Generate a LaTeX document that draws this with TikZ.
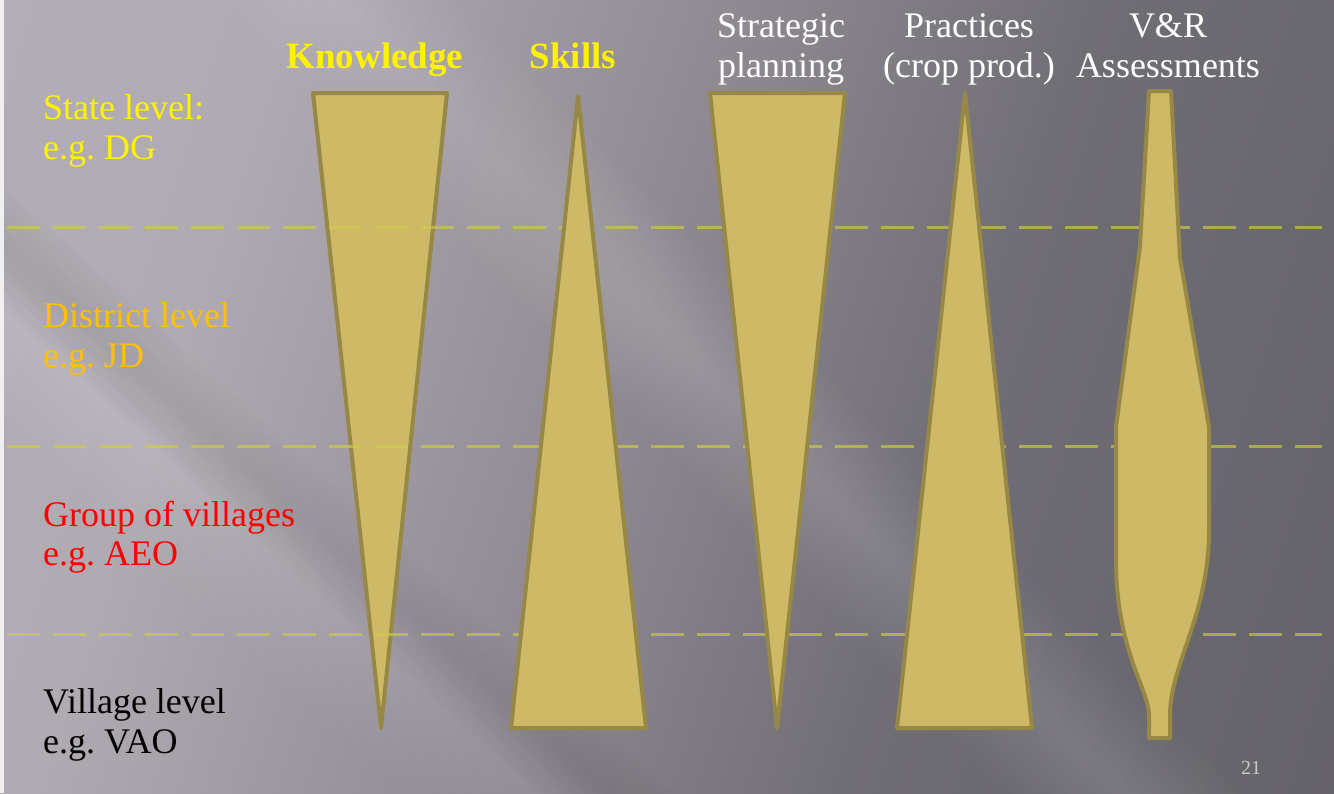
\documentclass[tikz,border=0pt]{standalone}
\usepackage{fontspec}
\setmainfont{Liberation Serif}
\frenchspacing
\begin{document}
\pgfdeclarehorizontalshading{slidebg}{100bp}{%
  rgb(0bp)=(0.72,0.70,0.73);
  rgb(30bp)=(0.69,0.67,0.70);
  rgb(48bp)=(0.56,0.54,0.57);
  rgb(62bp)=(0.44,0.43,0.46);
  rgb(100bp)=(0.35,0.345,0.365)}
\definecolor{goldfill}{RGB}{206,185,102}
\definecolor{goldline}{RGB}{152,136,70}
\definecolor{dashyellow}{RGB}{205,205,70}
\definecolor{districtcol}{RGB}{255,192,0}
\definecolor{pagenum}{RGB}{200,200,204}
\begin{tikzpicture}[x=1pt,y=-1pt,
  wedge/.style={fill=goldfill,draw=goldline,line width=4pt,line join=round},
  levelline/.style={draw=dashyellow,draw opacity=0.65,line width=3pt,dash pattern=on 33pt off 13pt},
  rowlabel/.style={anchor=base west,inner sep=0pt,font=\fontsize{36}{40}\selectfont},
  colhead/.style={anchor=base,inner sep=0pt,font=\fontsize{36}{40}\selectfont,text=white},
  boldhead/.style={anchor=base,inner sep=0pt,font=\fontsize{37}{40}\selectfont\bfseries,text=yellow},
  streak/.style={white,line cap=butt}]
\useasboundingbox (0,0) rectangle (1334,793);

% slide background: diagonal grey gradient with soft light streaks
\shade[shading=slidebg,shading angle=-18] (0,0) rectangle (1334,793);
\begin{scope}
  \clip (0,0) rectangle (1334,793);
  \foreach \w in {20,40,...,160}{
    \draw[streak,opacity=0.018,line width=\w pt] (200,-141) -- (1230,900);
    \draw[streak,opacity=0.016,line width=\w pt] (-200,130) -- (700,950);
  }
  \foreach \w in {15,30,...,90}{
    \draw[black,opacity=0.012,line width=\w pt] (-50,200) -- (780,950);
  }
\end{scope}
\fill[white!88!gray] (0,0) rectangle (4,793);

% knowledge narrows towards the village level
\draw[wedge] (313,93) -- (447,93) -- (381,728) -- cycle;

% dashed boundaries between administrative levels
\coordinate (s1) at (7,227);  \coordinate (e1) at (1322,227);
\coordinate (s2) at (7,446);  \coordinate (e2) at (1322,446);
\coordinate (s3) at (7,634);  \coordinate (e3) at (1322,634);
\draw[levelline] (s1) -- (e1);
\draw[levelline] (s2) -- (e2);
\draw[levelline] (s3) -- (e3);

% skills widen towards the village level
\draw[wedge] (578,96) -- (646,728) -- (511,728) -- cycle;
% strategic planning
\draw[wedge] (710,93) -- (845,93) -- (777,728) -- cycle;
% practices (crop production)
\draw[wedge] (965,93) -- (1032,728) -- (897,728) -- cycle;
% V&R assessments
\draw[wedge] (1149,91) -- (1171,91) -- (1180,258) -- (1209,427) -- (1209,530)
  .. controls (1209,615) and (1170,665) .. (1170,715) -- (1170,738) -- (1149,738)
  -- (1149,715) .. controls (1149,690) and (1116,650) .. (1116,560)
  -- (1116,427) -- (1140,246) -- cycle;

% column headings
\node[boldhead] (hknow) at (375,68) {Knowledge};
\node[boldhead] (hskill) at (573,68) {Skills};
\node[colhead] (hstrat1) at (781,37) {Strategic};
\node[colhead] (hstrat2) at (781,77) {planning};
\node[colhead] (hprac1) at (969,37) {Practices};
\node[colhead] (hprac2) at (969,77) {(crop prod.)};
\node[colhead] (hvr1) at (1168,37) {V\&R};
\node[colhead] (hvr2) at (1168,77) {Assessments};

% row labels
\node[rowlabel,text=yellow] (state1) at (43,119) {State level:};
\node[rowlabel,text=yellow] (state2) at (43,159) {e.g. DG};
\node[rowlabel,text=districtcol] (dist1) at (43,327) {District level};
\node[rowlabel,text=districtcol] (dist2) at (43,367) {e.g. JD};
\node[rowlabel,text=red] (group1) at (43,526) {Group of villages};
\node[rowlabel,text=red] (group2) at (43,565) {e.g. AEO};
\node[rowlabel,text=black] (vill1) at (43,713) {Village level};
\node[rowlabel,text=black] (vill2) at (43,753) {e.g. VAO};

% slide number
\node[anchor=base,inner sep=0pt,font=\fontsize{20}{24}\selectfont,text=pagenum] (pg) at (1251,774) {21};
\end{tikzpicture}
\end{document}
